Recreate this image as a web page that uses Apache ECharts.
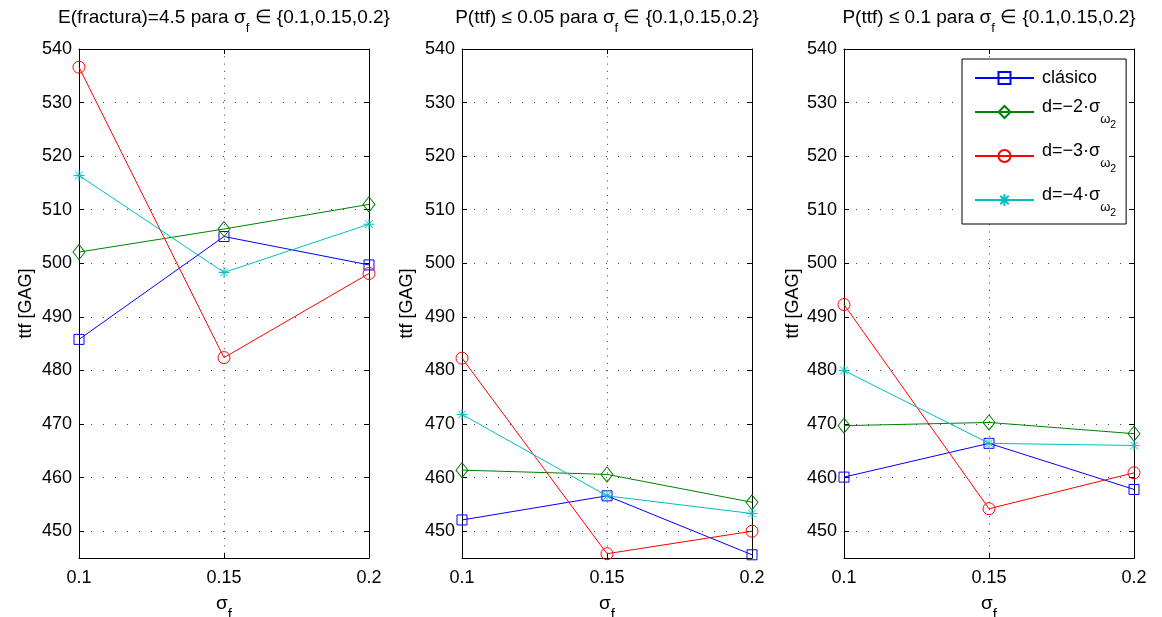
<!DOCTYPE html>
<html>
<head>
<meta charset="utf-8">
<script src="https://cdn.jsdelivr.net/npm/echarts@6/dist/echarts.min.js"></script>
<style>
  html, body { margin: 0; padding: 0; background: #fff; }
  #chart { width: 1162px; height: 617px; }
</style>
</head>
<body>
<div id="chart"></div>
<script>
// σ_f values on the x axis and their tick labels
const sigmaF = [0.1, 0.15, 0.2];
const xTickLabels = ['0.1', '0.15', '0.2'];

// ttf [GAG] for each criterion (panel) and each method (series)
// Panel 1: E(fractura) = 4.5
const eClasico = [485.8, 505.0, 499.7];
const eD2 = [502.1, 506.4, 511.0];
const eD3 = [536.6, 482.4, 498.1];
const eD4 = [516.4, 498.3, 507.3];
// Panel 2: P(ttf) <= 0.05
const p05Clasico = [452.1, 456.6, 445.6];
const p05D2 = [461.4, 460.6, 455.4];
const p05D3 = [482.3, 445.8, 450.0];
const p05D4 = [471.8, 456.6, 453.3];
// Panel 3: P(ttf) <= 0.1
const p10Clasico = [460.1, 466.4, 457.8];
const p10D2 = [469.7, 470.3, 468.2];
const p10D3 = [492.3, 454.2, 460.9];
const p10D4 = [480.0, 466.4, 466.0];

const seriesNames = ['clásico', 'd=−2·σω2', 'd=−3·σω2', 'd=−4·σω2'];
const panelTitles = [
  'E(fractura)=4.5 para σ{f|f} ∈ {0.1,0.15,0.2}',
  'P(ttf) ≤ 0.05 para σ{f|f} ∈ {0.1,0.15,0.2}',
  'P(ttf) ≤ 0.1 para σ{f|f} ∈ {0.1,0.15,0.2}'
];
const panelData = [
  [eClasico, eD2, eD3, eD4],
  [p05Clasico, p05D2, p05D3, p05D4],
  [p10Clasico, p10D2, p10D3, p10D4]
];

const FONT = 'Liberation Sans, Arial, Helvetica, sans-serif';
const colors = ['#0000ff', '#008000', '#ff0000', '#00bfbf'];
const symbols = [
  'rect',
  'diamond',
  'circle',
  'path://M5 0L5 10M0 5L10 5M1.5 1.5L8.5 8.5M1.5 8.5L8.5 1.5'
];
const symbolSizes = [10, [12, 15], 12, 11];

// plot areas
const grids = [
  { left: 79, top: 49, width: 290, height: 509 },
  { left: 462, top: 49, width: 290, height: 509 },
  { left: 844, top: 49, width: 290, height: 509 }
];
const yNameGaps = [44, 46, 42];

const option = {
  animation: false,
  backgroundColor: '#fff',
  title: [],
  grid: [],
  xAxis: [],
  yAxis: [],
  series: [],
  legend: {
    data: seriesNames,
    orient: 'vertical',
    left: 962,
    top: 59,
    padding: [10, 10, 5, 12],
    itemGap: 7,
    itemWidth: 59,
    itemHeight: 15,
    backgroundColor: '#fff',
    borderColor: '#000',
    borderWidth: 1,
    borderRadius: 0,
    selectedMode: false,
    formatter: function (name) {
      if (name === 'clásico') return '{c|clásico}';
      return '{m|' + name.slice(0, -2) + '}{w|ω}{s|2}';
    },
    textStyle: {
      fontFamily: FONT,
      color: '#000',
      rich: {
        c: { fontFamily: FONT, fontSize: 18, color: '#000', lineHeight: 18, padding: [0, 0, 0, 3] },
        m: { fontFamily: FONT, fontSize: 18, color: '#000', height: 20, lineHeight: 36, verticalAlign: 'top', padding: [3, 0, 0, 3] },
        w: { fontFamily: FONT, fontSize: 13, color: '#000', height: 14, lineHeight: 36, verticalAlign: 'top', padding: [18, 0, 0, 0] },
        s: { fontFamily: FONT, fontSize: 10.5, color: '#000', height: 9, lineHeight: 36, verticalAlign: 'top', padding: [27, 0, 0, 0] }
      }
    }
  }
};

const axisLineStyle = { color: '#000', width: 1 };

grids.forEach(function (g, i) {
  option.grid.push(Object.assign({ containLabel: false, outerBoundsMode: 'none' }, g));

  option.title.push({
    text: panelTitles[i],
    left: g.left + g.width / 2,
    top: 6,
    textAlign: 'center',
    padding: 0,
    textStyle: {
      fontFamily: FONT,
      fontSize: 19,
      fontWeight: 'normal',
      color: '#000',
      lineHeight: 24,
      rich: {
        f: { fontFamily: FONT, fontSize: 13, color: '#000', height: 15, lineHeight: 24, verticalAlign: 'top', padding: [14.5, 0, 0, 0] }
      }
    }
  });

  // bottom x axis with labels and grid line
  option.xAxis.push({
    gridIndex: i,
    type: 'value',
    position: 'bottom',
    min: 0.1,
    max: 0.2,
    interval: 0.05,
    axisLine: { show: true, onZero: false, lineStyle: axisLineStyle },
    axisTick: { show: true, inside: true, length: 5, lineStyle: axisLineStyle },
    axisLabel: {
      margin: 11,
      fontFamily: FONT,
      fontSize: 18,
      color: '#000',
      formatter: function (v, idx) { return xTickLabels[idx] !== undefined ? xTickLabels[idx] : ''; }
    },
    splitLine: { show: true, lineStyle: { color: '#444', width: 1, type: [1, 6.3] } },
    name: 'σ{f|f}',
    nameLocation: 'middle',
    nameGap: 30,
    nameTextStyle: {
      fontFamily: FONT,
      fontSize: 19,
      color: '#000',
      lineHeight: 24,
      rich: {
        f: { fontFamily: FONT, fontSize: 15, color: '#000', height: 16, lineHeight: 24, verticalAlign: 'top', padding: [15, 0, 0, 0] }
      }
    }
  });
  // top x axis: box edge with inner ticks
  option.xAxis.push({
    gridIndex: i,
    type: 'value',
    position: 'top',
    min: 0.1,
    max: 0.2,
    interval: 0.05,
    axisLine: { show: true, onZero: false, lineStyle: axisLineStyle },
    axisTick: { show: true, inside: true, length: 5, lineStyle: axisLineStyle },
    axisLabel: { show: false },
    splitLine: { show: false }
  });

  // left y axis with labels, name and grid lines
  option.yAxis.push({
    gridIndex: i,
    type: 'value',
    position: 'left',
    min: 445,
    max: 540,
    splitNumber: 10,
    axisLine: { show: true, onZero: false, lineStyle: axisLineStyle },
    axisTick: { show: true, inside: true, length: 5, lineStyle: axisLineStyle },
    axisLabel: {
      margin: 7,
      fontFamily: FONT,
      fontSize: 18,
      color: '#000',
      showMinLabel: false,
      formatter: function (v) { return v % 10 === 0 ? String(v) : ''; }
    },
    splitLine: { show: true, lineStyle: { color: '#444', width: 1, type: [1, 11] } },
    name: 'ttf [GAG]',
    nameLocation: 'middle',
    nameGap: yNameGaps[i],
    nameTextStyle: { fontFamily: FONT, fontSize: 18, color: '#000' }
  });
  // right y axis: box edge with inner ticks
  option.yAxis.push({
    gridIndex: i,
    type: 'value',
    position: 'right',
    min: 445,
    max: 540,
    splitNumber: 10,
    axisLine: { show: true, onZero: false, lineStyle: axisLineStyle },
    axisTick: { show: true, inside: true, length: 5, lineStyle: axisLineStyle },
    axisLabel: { show: false },
    splitLine: { show: false }
  });

  panelData[i].forEach(function (vals, k) {
    option.series.push({
      type: 'line',
      name: seriesNames[k],
      xAxisIndex: i * 2,
      yAxisIndex: i * 2,
      data: sigmaF.map(function (x, j) { return [x, vals[j]]; }),
      symbol: symbols[k],
      symbolSize: symbolSizes[k],
      showAllSymbol: true,
      lineStyle: { color: colors[k], width: 1 },
      itemStyle: { color: 'rgba(255,255,255,0)', borderColor: colors[k], borderWidth: 1 },
      emphasis: { disabled: true },
      z: 2 + k
    });
  });
});

const chart = echarts.init(document.getElementById('chart'), null, { renderer: 'canvas' });
chart.setOption(option);
</script>
</body>
</html>
